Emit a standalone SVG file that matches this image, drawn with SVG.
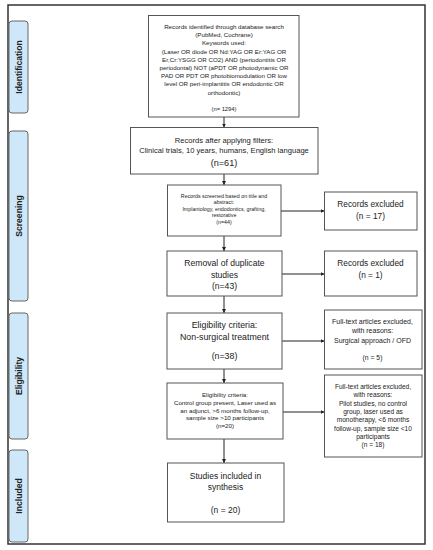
<svg xmlns="http://www.w3.org/2000/svg" width="433" height="550" viewBox="0 0 433 550">
<defs>
<marker id="ah" viewBox="0 0 10 10" refX="10" refY="5" markerWidth="4" markerHeight="4" orient="auto" markerUnits="userSpaceOnUse">
<path d="M0,0 L10,5 L0,10 z" fill="#222"/>
</marker>
<style>
text{font-family:"Liberation Sans",Arial,sans-serif;fill:#222;text-anchor:middle}
.box{fill:#fff;stroke:#555;stroke-width:1}
.tab{fill:#cfe8f9;stroke:#666;stroke-width:1}
.tabt{font-weight:bold;font-size:8.6px}
.conn{stroke:#222;stroke-width:1;fill:none;marker-end:url(#ah)}
</style>
</defs>
<rect x="0" y="0" width="433" height="550" fill="#fff"/>
<rect id="frame" x="8" y="5" width="417" height="539" fill="none" stroke="#333" stroke-width="1.5"/>
<g id="tab-identification"><rect class="tab" x="9" y="21" width="19" height="92" rx="3"/><text class="tabt" transform="translate(21.5,67) rotate(-90)">Identification</text></g>
<g id="tab-screening"><rect class="tab" x="9" y="131" width="19" height="170" rx="3"/><text class="tabt" transform="translate(21.5,216) rotate(-90)">Screening</text></g>
<g id="tab-eligibility"><rect class="tab" x="9" y="313" width="19" height="126" rx="3"/><text class="tabt" transform="translate(21.5,376) rotate(-90)">Eligibility</text></g>
<g id="tab-included"><rect class="tab" x="9" y="450" width="19" height="92" rx="3"/><text class="tabt" transform="translate(21.5,496) rotate(-90)">Included</text></g>

<g id="connectors">
<line class="conn" x1="224" y1="117" x2="224" y2="127.5"/>
<line class="conn" x1="224" y1="174" x2="224" y2="185"/>
<line class="conn" x1="224" y1="236" x2="224" y2="251"/>
<line class="conn" x1="224" y1="296" x2="224" y2="313"/>
<line class="conn" x1="224" y1="369" x2="224" y2="383"/>
<line class="conn" x1="224" y1="439" x2="224" y2="463"/>
<line class="conn" x1="281" y1="211" x2="324.5" y2="211"/>
<line class="conn" x1="282" y1="274" x2="324.5" y2="274"/>
<line class="conn" x1="282" y1="341" x2="324.5" y2="341"/>
<line class="conn" x1="283" y1="412" x2="324.5" y2="412"/>
</g>

<g id="records-identified">
<rect class="box" x="148.5" y="15.5" width="150.5" height="101.5"/>
<g font-size="6.2">
<text x="224" y="29">Records identified through database search</text>
<text x="224" y="37.2">(PubMed, Cochrane)</text>
<text x="224" y="45.4">Keywords used:</text>
<text x="224" y="53.6">(Laser OR diode OR Nd:YAG OR Er:YAG OR</text>
<text x="224" y="61.8">Er,Cr:YSGG OR CO2) AND (periodontitis OR</text>
<text x="224" y="70">periodontal) NOT (aPDT OR photodynamic OR</text>
<text x="224" y="78.2">PAD OR PDT OR photobiomodulation OR low</text>
<text x="224" y="86.4">level OR peri-implantitis OR endodontic OR</text>
<text x="224" y="94.6">orthodontic)</text>
<text x="224" y="110.5" font-size="5.8">(n= 1294)</text>
</g>
</g>

<g id="records-filtered">
<rect class="box" x="130.5" y="127.5" width="187.5" height="46.5"/>
<text x="224" y="142.6" font-size="7.6">Records after applying filters:</text>
<text x="224" y="153.4" font-size="7.6">Clinical trials, 10 years, humans, English language</text>
<text x="224" y="166" font-size="9.1">(n=61)</text>
</g>

<g id="records-screened">
<rect class="box" x="167.5" y="185" width="113.5" height="51"/>
<g font-size="5.3">
<text x="224" y="197.8">Records screened based on title and</text>
<text x="224" y="204.3">abstract:</text>
<text x="224" y="210.8">Implantology, endodontics, grafting,</text>
<text x="224" y="217.3">restorative</text>
<text x="224" y="223.8">(n=44)</text>
</g>
</g>

<g id="excluded-1">
<rect class="box" x="324.5" y="192" width="92.5" height="38"/>
<text x="370.5" y="207" font-size="8.3">Records excluded</text>
<text x="370.5" y="219" font-size="8.3">(n = 17)</text>
</g>

<g id="duplicates">
<rect class="box" x="167" y="251" width="115" height="45"/>
<text x="224.5" y="265.7" font-size="8.6">Removal of duplicate</text>
<text x="224.5" y="278" font-size="8.6">studies</text>
<text x="224.5" y="288.7" font-size="8.6">(n=43)</text>
</g>

<g id="excluded-2">
<rect class="box" x="324.5" y="251" width="92.5" height="45"/>
<text x="370.5" y="265.7" font-size="8.3">Records excluded</text>
<text x="370.5" y="278" font-size="8.3">(n = 1)</text>
</g>

<g id="eligibility-1">
<rect class="box" x="167" y="313" width="115" height="56"/>
<text x="224.5" y="328.1" font-size="8.8">Eligibility criteria:</text>
<text x="224.5" y="339.8" font-size="8.8">Non-surgical treatment</text>
<text x="224.5" y="358.8" font-size="8.8">(n=38)</text>
</g>

<g id="excluded-3">
<rect class="box" x="324.5" y="310" width="97.5" height="59"/>
<text x="372.5" y="324.2" font-size="7">Full-text articles excluded,</text>
<text x="372.5" y="333.2" font-size="7">with reasons:</text>
<text x="372.5" y="343.2" font-size="7">Surgical approach / OFD</text>
<text x="372.5" y="359.7" font-size="6.8">(n = 5)</text>
</g>

<g id="eligibility-2">
<rect class="box" x="167" y="383" width="116" height="56"/>
<g font-size="6.2">
<text x="225" y="397.2">Eligibility criteria:</text>
<text x="225" y="404.9">Control group present, Laser used as</text>
<text x="225" y="412.6">an adjunct, &gt;6 months follow-up,</text>
<text x="225" y="420.3">sample size &gt;10 participants</text>
<text x="225" y="428">(n=20)</text>
</g>
</g>

<g id="excluded-4">
<rect class="box" x="324.5" y="375" width="97.5" height="82"/>
<g font-size="6.6">
<text x="373" y="389">Full-text articles excluded,</text>
<text x="373" y="397.3">with reasons:</text>
<text x="373" y="405.6">Pilot studies, no control</text>
<text x="373" y="413.9">group, laser used as</text>
<text x="373" y="422.2">monotherapy, &lt;6 months</text>
<text x="373" y="430.5">follow-up, sample size &lt;10</text>
<text x="373" y="438.8">participants</text>
<text x="373" y="447.1">(n = 18)</text>
</g>
</g>

<g id="included">
<rect class="box" x="167.5" y="463" width="116.5" height="59"/>
<text x="225.5" y="479" font-size="8.5">Studies included in</text>
<text x="225.5" y="490.3" font-size="8.5">synthesis</text>
<text x="225.5" y="513" font-size="8.5">(n = 20)</text>
</g>
</svg>
